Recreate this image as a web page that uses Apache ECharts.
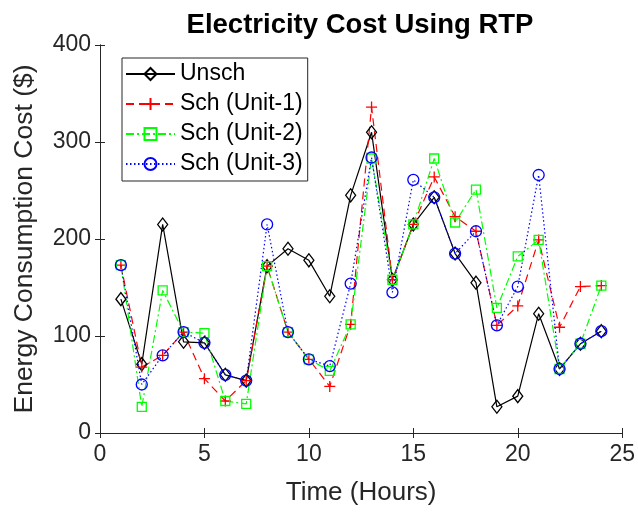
<!DOCTYPE html>
<html><head><meta charset="utf-8">
<script src="https://cdn.jsdelivr.net/npm/echarts@6/dist/echarts.min.js"></script>
<style>html,body{margin:0;padding:0;background:#fff}#c{width:638px;height:514px}</style>
</head><body><div id="c"></div>
<script>
const hours = [1,2,3,4,5,6,7,8,9,10,11,12,13,14,15,16,17,18,19,20,21,22,23,24];
const unsch = [138,71,215,94,93,60,54,172,190,178,141,245,310,158,215,243,185,155,27,38,123,66,92,105];
const unit1 = [173,68,80,104,56,33,54,172,104,76,48,112,336,158,215,264,223,208,111,131,199,109,151,152];
const unit2 = [173,27,147,104,103,33,30,172,104,76,64,112,283,158,215,283,217,251,129,182,199,66,92,152];
const unit3 = [173,50,80,104,93,60,54,215,104,76,69,154,284,145,261,243,185,208,111,151,266,66,92,105];
const xTicks = [0,5,10,15,20,25];
const yTicks = [0,100,200,300,400];
const names = ['Unsch','Sch (Unit-1)','Sch (Unit-2)','Sch (Unit-3)'];

const FONT = 'Liberation Sans, Arial, Helvetica, sans-serif';
const AX = '#262626';
const pair = arr => hours.map((h,i)=>[h,arr[i]]);
const clear = 'rgba(0,0,0,0)';
const PLUS = 'path://M5,0L5,10M0,5L10,5';

function mk(name, data, color, type, symbol, size){
  return {
    name, type:'line', data:pair(data), symbol, symbolSize:size,
    showAllSymbol:true, animation:false, z:2,
    lineStyle:{color, width:1.2, type},
    itemStyle:{color:clear, borderColor:color, borderWidth:1.3},
    emphasis:{disabled:true}
  };
}

const chart = echarts.init(document.getElementById('c'), null, {renderer:'canvas'});
chart.setOption({
  backgroundColor:'#fff',
  animation:false,
  title:{
    text:'Electricity Cost Using RTP', left:355, top:6, textAlign:'center',
    textStyle:{fontFamily:FONT, fontSize:27.5, fontWeight:'bold', color:'#000'}
  },
  grid:{left:100, right:13, top:45, bottom:81, show:false},
  legend:{
    orient:'vertical', left:122, top:58,
    data:names,
    itemWidth:49, itemHeight:15, itemGap:0,
    padding:[1,5,2,3],
    borderColor:AX, borderWidth:1, backgroundColor:'#fff',
    textStyle:{fontFamily:FONT, fontSize:23, color:'#000', lineHeight:30},
    selectedMode:false
  },
  xAxis:[{
    type:'value', min:0, max:25, interval:5, position:'bottom',
    name:'Time (Hours)', nameLocation:'middle', nameGap:47,
    nameTextStyle:{fontFamily:FONT, fontSize:26, color:AX},
    axisLine:{show:true, lineStyle:{color:AX, width:1}},
    axisTick:{show:true, inside:true, length:5, lineStyle:{color:AX}},
    axisLabel:{fontFamily:FONT, fontSize:23, color:AX, margin:10,
      formatter:v=>xTicks.includes(v)?String(v):''},
    splitLine:{show:false}
  },{
    type:'value', min:0, max:25, interval:5, position:'top',
    axisLine:{show:true, lineStyle:{color:AX, width:1}},
    axisTick:{show:true, inside:true, length:5, lineStyle:{color:AX}},
    axisLabel:{show:false}, splitLine:{show:false}
  }],
  yAxis:[{
    type:'value', min:0, max:400, interval:100, position:'left',
    name:'Energy Consumption Cost ($)', nameLocation:'middle', nameGap:62,
    nameTextStyle:{fontFamily:FONT, fontSize:26.5, color:AX},
    axisLine:{show:true, lineStyle:{color:AX, width:1}},
    axisTick:{show:true, inside:true, length:5, lineStyle:{color:AX}},
    axisLabel:{fontFamily:FONT, fontSize:23, color:AX, margin:9,
      formatter:v=>yTicks.includes(v)?String(v):''},
    splitLine:{show:false}
  },{
    type:'value', min:0, max:400, interval:100, position:'right',
    axisLine:{show:true, lineStyle:{color:AX, width:1}},
    axisTick:{show:true, inside:true, length:5, lineStyle:{color:AX}},
    axisLabel:{show:false}, splitLine:{show:false}
  }],
  series:[
    mk(names[0], unsch, '#000000', 'solid', 'diamond', [10,13]),
    mk(names[1], unit1, '#ff0000', [8,5], PLUS, 11),
    mk(names[2], unit2, '#00ff00', [8,3,2,3], 'rect', 9),
    mk(names[3], unit3, '#0000ff', [1.5,2.5], 'circle', 11)
  ]
});
</script></body></html>
